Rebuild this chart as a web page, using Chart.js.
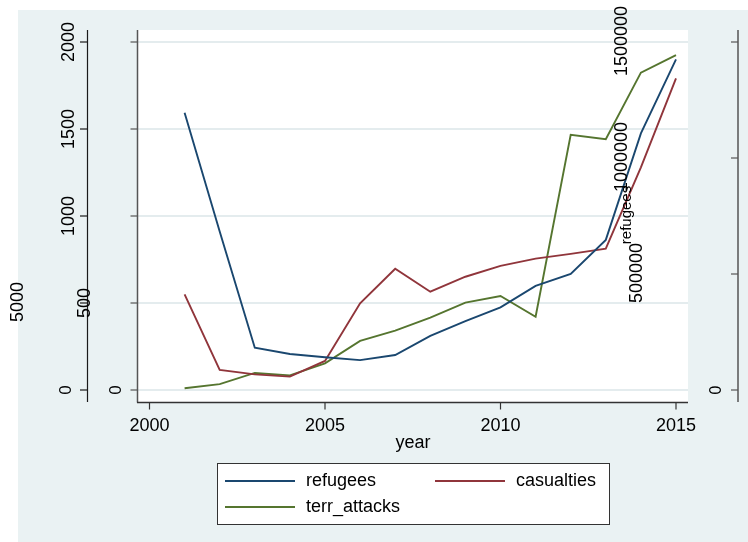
<!DOCTYPE html>
<html>
<head>
<meta charset="utf-8">
<title>refugees, casualties and terrorist attacks by year</title>
<script src="https://cdn.jsdelivr.net/npm/chart.js@4.4.1/dist/chart.umd.min.js"></script>
<style>
  html, body { margin: 0; padding: 0; background: #ffffff; }
  canvas { display: block; }
</style>
</head>
<body>
<canvas id="c" width="748" height="542"></canvas>
<script>
// ---- data ----
const years = [2001, 2002, 2003, 2004, 2005, 2006, 2007, 2008, 2009, 2010, 2011, 2012, 2013, 2014, 2015];
const refugees = [1195000, 683000, 182000, 155000, 141000, 129000, 151000, 233000, 297000, 356000, 449000, 500000, 647000, 1106000, 1425000];
const casualties = [550, 115, 90, 77, 167, 498, 697, 565, 651, 713, 755, 782, 812, 1280, 1791];
const terrAttacks = [10, 34, 98, 84, 153, 282, 341, 416, 502, 540, 421, 1466, 1441, 1824, 1925];

const xTicks = [2000, 2005, 2010, 2015];
const yTicks = [0, 500, 1000, 1500, 2000];
const refugeeTicks = [0, 500000, 1000000, 1500000];
const xTitle = 'year';
const leftTitle = '5000';
const rightTitle = 'refugees';

const FONT = "'Liberation Sans', Arial, Helvetica, sans-serif";
const BG = '#eaf2f3';

function pts(vals) { return years.map((yr, i) => ({ x: yr, y: vals[i] })); }

function vText(ctx, txt, cx, cy, size) {
  ctx.save();
  ctx.translate(cx, cy);
  ctx.rotate(-Math.PI / 2);
  ctx.font = size + 'px ' + FONT;
  ctx.textAlign = 'center';
  ctx.textBaseline = 'middle';
  ctx.fillText(txt, 0, 0);
  ctx.restore();
}

function line(ctx, x1, y1, x2, y2, color, w) {
  ctx.save();
  ctx.strokeStyle = color;
  ctx.lineWidth = w;
  ctx.beginPath();
  ctx.moveTo(x1, y1);
  ctx.lineTo(x2, y2);
  ctx.stroke();
  ctx.restore();
}

// Stata-style frame: backdrop, plot region, grid, axes, labels and legend
const stataFrame = {
  id: 'stataFrame',
  beforeDraw(chart) {
    const { ctx, chartArea: a, scales } = chart;
    ctx.save();
    ctx.fillStyle = '#ffffff';
    ctx.fillRect(0, 0, chart.width, chart.height);
    ctx.fillStyle = BG;
    ctx.fillRect(18, 10, chart.width - 18, chart.height - 10);
    ctx.fillStyle = '#ffffff';
    ctx.fillRect(a.left, a.top, a.right - a.left, a.bottom - a.top);
    ctx.restore();
    yTicks.forEach(v => {
      const py = Math.round(scales.y.getPixelForValue(v));
      line(ctx, a.left, py, a.right, py, '#e4ecee', 2);
    });
  },
  afterDatasetsDraw(chart) {
    const { ctx, chartArea: a, scales } = chart;
    const ys = scales.y, yr = scales.yR, xs = scales.x;
    ctx.save();
    ctx.fillStyle = '#000000';

    // outer left axis
    const axA = 87.5;
    line(ctx, axA, a.top, axA, a.bottom, '#1a1a1a', 1.2);
    yTicks.forEach(v => {
      const py = ys.getPixelForValue(v);
      line(ctx, axA - 7.5, py, axA, py, '#1a1a1a', 1.2);
    });
    yTicks.forEach(v => {
      const py = ys.getPixelForValue(v);
      if (v === 0) vText(ctx, '0', 66, py, 17);
      else if (v === 500) vText(ctx, '500', 85, py, 18);
      else vText(ctx, String(v), 69, py, 18);
    });
    vText(ctx, leftTitle, 18.5, 302, 18);

    // plot region left axis
    line(ctx, a.left - 0.5, a.top, a.left - 0.5, a.bottom + 0.5, '#555555', 1.5);
    yTicks.forEach(v => {
      const py = ys.getPixelForValue(v);
      line(ctx, a.left - 7.5, py, a.left, py, '#555555', 1.2);
    });
    vText(ctx, '0', 116, ys.getPixelForValue(0), 17);

    // bottom axis
    line(ctx, a.left - 1, a.bottom + 0.5, a.right, a.bottom + 0.5, '#333333', 1.5);
    ctx.font = '18px ' + FONT;
    ctx.textAlign = 'center';
    ctx.textBaseline = 'middle';
    xTicks.forEach(v => {
      const px = xs.getPixelForValue(v);
      line(ctx, px, a.bottom, px, a.bottom + 7.5, '#333333', 1.2);
      ctx.fillText(String(v), px, 426);
    });
    ctx.fillText(xTitle, 413, 443);

    // refugees axis, far right
    const axR = 738;
    line(ctx, axR, a.top, axR, a.bottom, '#555555', 1.5);
    refugeeTicks.forEach(v => {
      const py = yr.getPixelForValue(v);
      line(ctx, axR - 7, py, axR, py, '#555555', 1.2);
    });
    refugeeTicks.forEach(v => {
      const py = yr.getPixelForValue(v);
      if (v === 0) vText(ctx, '0', 717, py, 16);
      else if (v === 500000) vText(ctx, String(v), 637.5, py - 1, 18);
      else vText(ctx, String(v), 622.5, py - 1, 18);
    });
    vText(ctx, rightTitle, 627, 215, 15);

    // legend
    const lx = 217, ly = 463, lw = 392, lh = 61;
    ctx.fillStyle = '#ffffff';
    ctx.fillRect(lx, ly, lw, lh);
    ctx.strokeStyle = '#333333';
    ctx.lineWidth = 1;
    ctx.strokeRect(lx + 0.5, ly + 0.5, lw, lh);
    const slots = [
      { x: 225, y: 481 },
      { x: 435, y: 481 },
      { x: 225, y: 507 }
    ];
    ctx.font = '18px ' + FONT;
    ctx.textAlign = 'left';
    ctx.textBaseline = 'middle';
    chart.data.datasets.forEach((ds, i) => {
      const s = slots[i];
      line(ctx, s.x, s.y, s.x + 70, s.y, ds.borderColor, 1.8);
      ctx.fillStyle = '#000000';
      ctx.fillText(ds.label, s.x + 81, s.y);
    });
    ctx.restore();
  }
};

new Chart(document.getElementById('c'), {
  type: 'line',
  data: {
    datasets: [
      { label: 'refugees', data: pts(refugees), yAxisID: 'yR', borderColor: '#1a476f' },
      { label: 'casualties', data: pts(casualties), yAxisID: 'y', borderColor: '#90353b' },
      { label: 'terr_attacks', data: pts(terrAttacks), yAxisID: 'y', borderColor: '#55752f' }
    ].map(d => Object.assign(d, { borderWidth: 1.9, pointRadius: 0, tension: 0, fill: false }))
  },
  options: {
    responsive: false,
    animation: false,
    layout: { padding: { left: 138, top: 30, right: 60, bottom: 140 } },
    plugins: { legend: { display: false }, tooltip: { enabled: false } },
    scales: {
      x: { type: 'linear', min: 1999.6724, max: 2015.3419, display: false },
      y: { type: 'linear', min: -68.97, max: 2068.97, display: false },
      yR: { type: 'linear', min: -51724, max: 1551724, display: false }
    }
  },
  plugins: [stataFrame]
});
</script>
</body>
</html>
